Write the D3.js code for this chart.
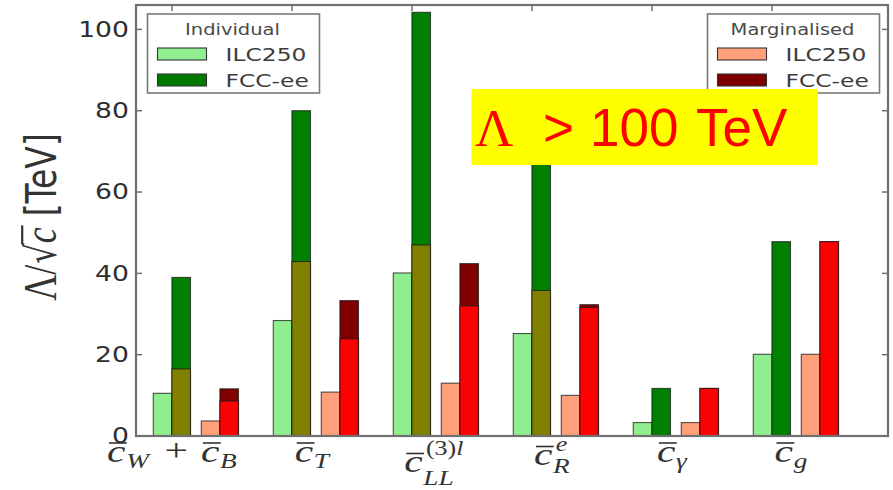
<!DOCTYPE html>
<html>
<head>
<meta charset="utf-8">
<script src="https://cdn.jsdelivr.net/npm/d3@7"></script>
<style>
  html, body { margin: 0; padding: 0; background: #fff; }
  svg { display: block; }
</style>
</head>
<body>
<svg id="chart" width="893" height="490"></svg>
<script>
// Operator coefficients along the x axis
const categories = ["cW+cB", "cT", "cLL3l", "cRe", "cgamma", "cg"];

// Mathematical tick labels: barred c with sub/superscripts
const tickLabels = [
  [{ base: "c", sub: "W" }, { op: "+" }, { base: "c", sub: "B" }],
  [{ base: "c", sub: "T" }],
  [{ base: "c", sub: "LL", sup: "(3)", supItalic: "l" }],
  [{ base: "c", sub: "R", supItalic: "e" }],
  [{ base: "c", sub: "γ" }],
  [{ base: "c", sub: "g" }]
];

// Reach Λ/√c in TeV — individual fits
const ilcIndividual       = [10.5, 28.4, 40.1, 25.2, 3.3, 20.1];
const fccIndividual       = [39.0, 80.0, 104.2, 75.0, 11.7, 47.8];
const fccIndividualLower  = [16.5, 42.9, 47.0, 35.8, 0, 0];

// Reach Λ/√c in TeV — marginalised fits
const ilcMarginalised      = [3.7, 10.8, 13.0, 10.0, 3.3, 20.1];
const fccMarginalised      = [11.6, 33.3, 42.4, 32.3, 11.7, 47.8];
const fccMarginalisedLower = [8.6, 23.9, 32.0, 31.6, 11.7, 47.8];

const yTicks = [0, 20, 40, 60, 80, 100];
const yMax = 106;

const svg = d3.select("#chart");
const SX = 1.3; // horizontal text stretch

const plot = { left: 136, right: 888, top: 5, bottom: 436 };

const y = d3.scaleLinear().domain([0, yMax]).range([plot.bottom, plot.top]);
const x = d3.scaleBand().domain(categories).range([133.3, 853.3]);

const barW = 18.6;
const lead = 20;
const slot = { ilcInd: 0, fccInd: barW, ilcMarg: 48, fccMarg: 48 + barW };
const tickX = c => x(c) + lead + barW;

// ---- Frame ticks (drawn beneath bars) ----
const tickColor = "#6f6f6f";
const gTicks = svg.append("g");
yTicks.forEach(t => {
  gTicks.append("line").attr("x1", plot.left).attr("x2", plot.left + 6)
    .attr("y1", y(t)).attr("y2", y(t)).attr("stroke", tickColor).attr("stroke-width", 1.5);
  gTicks.append("line").attr("x1", plot.right).attr("x2", plot.right - 6)
    .attr("y1", y(t)).attr("y2", y(t)).attr("stroke", tickColor).attr("stroke-width", 1.5);
});
categories.forEach(c => {
  gTicks.append("line").attr("x1", tickX(c)).attr("x2", tickX(c))
    .attr("y1", plot.top).attr("y2", plot.top + 6).attr("stroke", tickColor).attr("stroke-width", 1.5);
  gTicks.append("line").attr("x1", tickX(c)).attr("x2", tickX(c))
    .attr("y1", plot.bottom).attr("y2", plot.bottom - 6).attr("stroke", tickColor).attr("stroke-width", 1.5);
});

// ---- Bars ----
function drawBars(values, offset, fill) {
  svg.append("g").selectAll("rect")
    .data(categories.map((c, i) => ({ c, v: values[i] })).filter(d => d.v > 0))
    .join("rect")
    .attr("x", d => x(d.c) + lead + offset)
    .attr("width", barW)
    .attr("y", d => y(d.v))
    .attr("height", d => y(0) - y(d.v))
    .attr("fill", fill)
    .attr("stroke", "#1a1a1a")
    .attr("stroke-opacity", 0.75)
    .attr("stroke-width", 1.1);
}
drawBars(ilcIndividual, slot.ilcInd, "#90ee90");
drawBars(fccIndividual, slot.fccInd, "#008000");
drawBars(fccIndividualLower, slot.fccInd, "#808000");
drawBars(ilcMarginalised, slot.ilcMarg, "#ffa07a");
drawBars(fccMarginalised, slot.fccMarg, "#800000");
drawBars(fccMarginalisedLower, slot.fccMarg, "#ff0000");

// ---- Axes frame ----
svg.append("rect")
  .attr("x", plot.left).attr("y", plot.top)
  .attr("width", plot.right - plot.left).attr("height", plot.bottom - plot.top)
  .attr("fill", "none").attr("stroke", "#707070").attr("stroke-width", 2.2);

// ---- Y tick labels ----
yTicks.forEach(t => {
  svg.append("text")
    .attr("transform", `translate(129,${y(t) + 7.3}) scale(${SX},1)`)
    .attr("text-anchor", "end")
    .attr("font-family", "DejaVu Sans")
    .attr("font-size", 20.5)
    .attr("fill", "#2e2e2e")
    .text(t);
});

// ---- X tick labels (math) ----
const serif = "'Liberation Serif', 'DejaVu Serif', serif";
function mathLabel(spec) {
  const g = svg.append("g");
  let cx = 0;
  const hasSup = spec.some(t => t.sup || t.supItalic);
  const tallSup = spec.some(t => t.sup);
  spec.forEach(tok => {
    if (tok.op) {
      cx += 12;
      const t = g.append("text").attr("x", cx).attr("y", -1)
        .attr("font-family", serif).attr("font-size", 32).attr("fill", "#333").text(tok.op);
      cx += t.node().getComputedTextLength() + 10;
      return;
    }
    const t = g.append("text").attr("x", cx).attr("y", 0)
      .attr("font-family", serif).attr("font-style", "italic")
      .attr("font-size", 32).attr("fill", "#333").text(tok.base);
    const w = t.node().getComputedTextLength();
    g.append("line").attr("x1", cx + 1.5).attr("x2", cx + w + 1)
      .attr("y1", -18.5).attr("y2", -18.5).attr("stroke", "#333").attr("stroke-width", 1.6);
    cx += w + 0.5;
    let wSup = 0, wSub = 0;
    if (tok.sup || tok.supItalic) {
      const s = g.append("text").attr("x", cx + 2).attr("y", tok.sup ? -17 : -14)
        .attr("font-family", serif).attr("font-size", 20).attr("fill", "#333");
      if (tok.sup) s.append("tspan").text(tok.sup);
      if (tok.supItalic) s.append("tspan").attr("font-style", "italic").text(tok.supItalic);
      wSup = s.node().getComputedTextLength() + 2;
    }
    if (tok.sub) {
      const s = g.append("text").attr("x", cx).attr("y", tok.sup ? 13 : (hasSup ? 8 : 6))
        .attr("font-family", serif).attr("font-style", "italic")
        .attr("font-size", 21).attr("fill", "#333").text(tok.sub);
      wSub = s.node().getComputedTextLength();
    }
    cx += Math.max(wSup, wSub);
  });
  return { g, width: cx, hasSup, tallSup };
}
const labelNudge = [0, 20, 22, 20, 20, 19];
categories.forEach((c, i) => {
  const { g, width, hasSup, tallSup } = mathLabel(tickLabels[i]);
  const baseline = tallSup ? 472 : (hasSup ? 465 : 461.5);
  const cxCenter = tickX(c) + labelNudge[i];
  g.attr("transform", `translate(${cxCenter - width * SX / 2},${baseline}) scale(${SX},1)`);
});

// ---- Y axis label: Λ/√c [TeV] ----
{
  const g = svg.append("g");
  const pieces = [];
  let cx = 0;
  const add = (txt, fam, size, style) => {
    const t = g.append("text").attr("x", cx).attr("y", 0)
      .attr("font-family", fam).attr("font-size", size)
      .attr("font-style", style || "normal").attr("fill", "#333").text(txt);
    const w = t.node().getComputedTextLength();
    pieces.push({ x: cx, w });
    cx += w;
    return t;
  };
  add("Λ", serif, 36);
  add("/", serif, 36);
  cx += 1;
  add("√", "DejaVu Serif", 32);
  const rad = pieces[pieces.length - 1];
  add("c", serif, 36, "italic");
  const cc = pieces[pieces.length - 1];
  g.append("line").attr("x1", rad.x + rad.w - 1).attr("x2", cc.x + cc.w + 2)
    .attr("y1", -26).attr("y2", -26).attr("stroke", "#333").attr("stroke-width", 1.7);
  cx += 11;
  add("[TeV]", "DejaVu Sans", 33);
  const total = cx;
  g.attr("transform", `translate(56,217) scale(${SX},1) rotate(-90) translate(${-total / 2},0)`);
}

// ---- Legends ----
function legend(x0, y0, w, h, title, entries) {
  const g = svg.append("g");
  g.append("rect").attr("x", x0).attr("y", y0).attr("width", w).attr("height", h)
    .attr("fill", "#fff").attr("stroke", "#7a7a7a").attr("stroke-width", 1.6);
  g.append("text")
    .attr("transform", `translate(${x0 + w / 2 - 1},${y0 + 21}) scale(${SX},1)`)
    .attr("text-anchor", "middle").attr("font-family", "DejaVu Sans")
    .attr("font-size", 15).attr("fill", "#4a4a4a").text(title);
  entries.forEach((e, i) => {
    const py = y0 + 34 + i * 26;
    g.append("rect").attr("x", x0 + 10).attr("y", py).attr("width", 49).attr("height", 12)
      .attr("fill", e.color).attr("stroke", "#333").attr("stroke-width", 1.1);
    g.append("text")
      .attr("transform", `translate(${x0 + 78},${py + 12.5}) scale(${SX},1)`)
      .attr("font-family", "DejaVu Sans").attr("font-size", 18).attr("fill", "#3c3c3c")
      .text(e.label);
  });
}
legend(147.5, 14, 172, 79, "Individual", [
  { label: "ILC250", color: "#90ee90" },
  { label: "FCC-ee", color: "#007800" }
]);
legend(707.5, 14, 172, 79, "Marginalised", [
  { label: "ILC250", color: "#ffa07a" },
  { label: "FCC-ee", color: "#800000" }
]);

// ---- Highlight box ----
{
  const g = svg.append("g");
  g.append("rect").attr("x", 471.5).attr("y", 89).attr("width", 346.5).attr("height", 76)
    .attr("fill", "#ffff00");
  const sans = "'Liberation Sans', Arial, sans-serif";
  const t = g.append("text").attr("y", 146).attr("fill", "#ff0000").attr("font-size", 53);
  t.append("tspan").attr("x", 475).attr("font-family", "'Liberation Serif', serif").text("Λ");
  t.append("tspan").attr("x", 543).attr("font-family", sans).text(">");
  t.append("tspan").attr("x", 590).attr("font-family", sans).text("100");
  t.append("tspan").attr("x", 696).attr("font-family", sans).text("TeV");
}
</script>
</body>
</html>
